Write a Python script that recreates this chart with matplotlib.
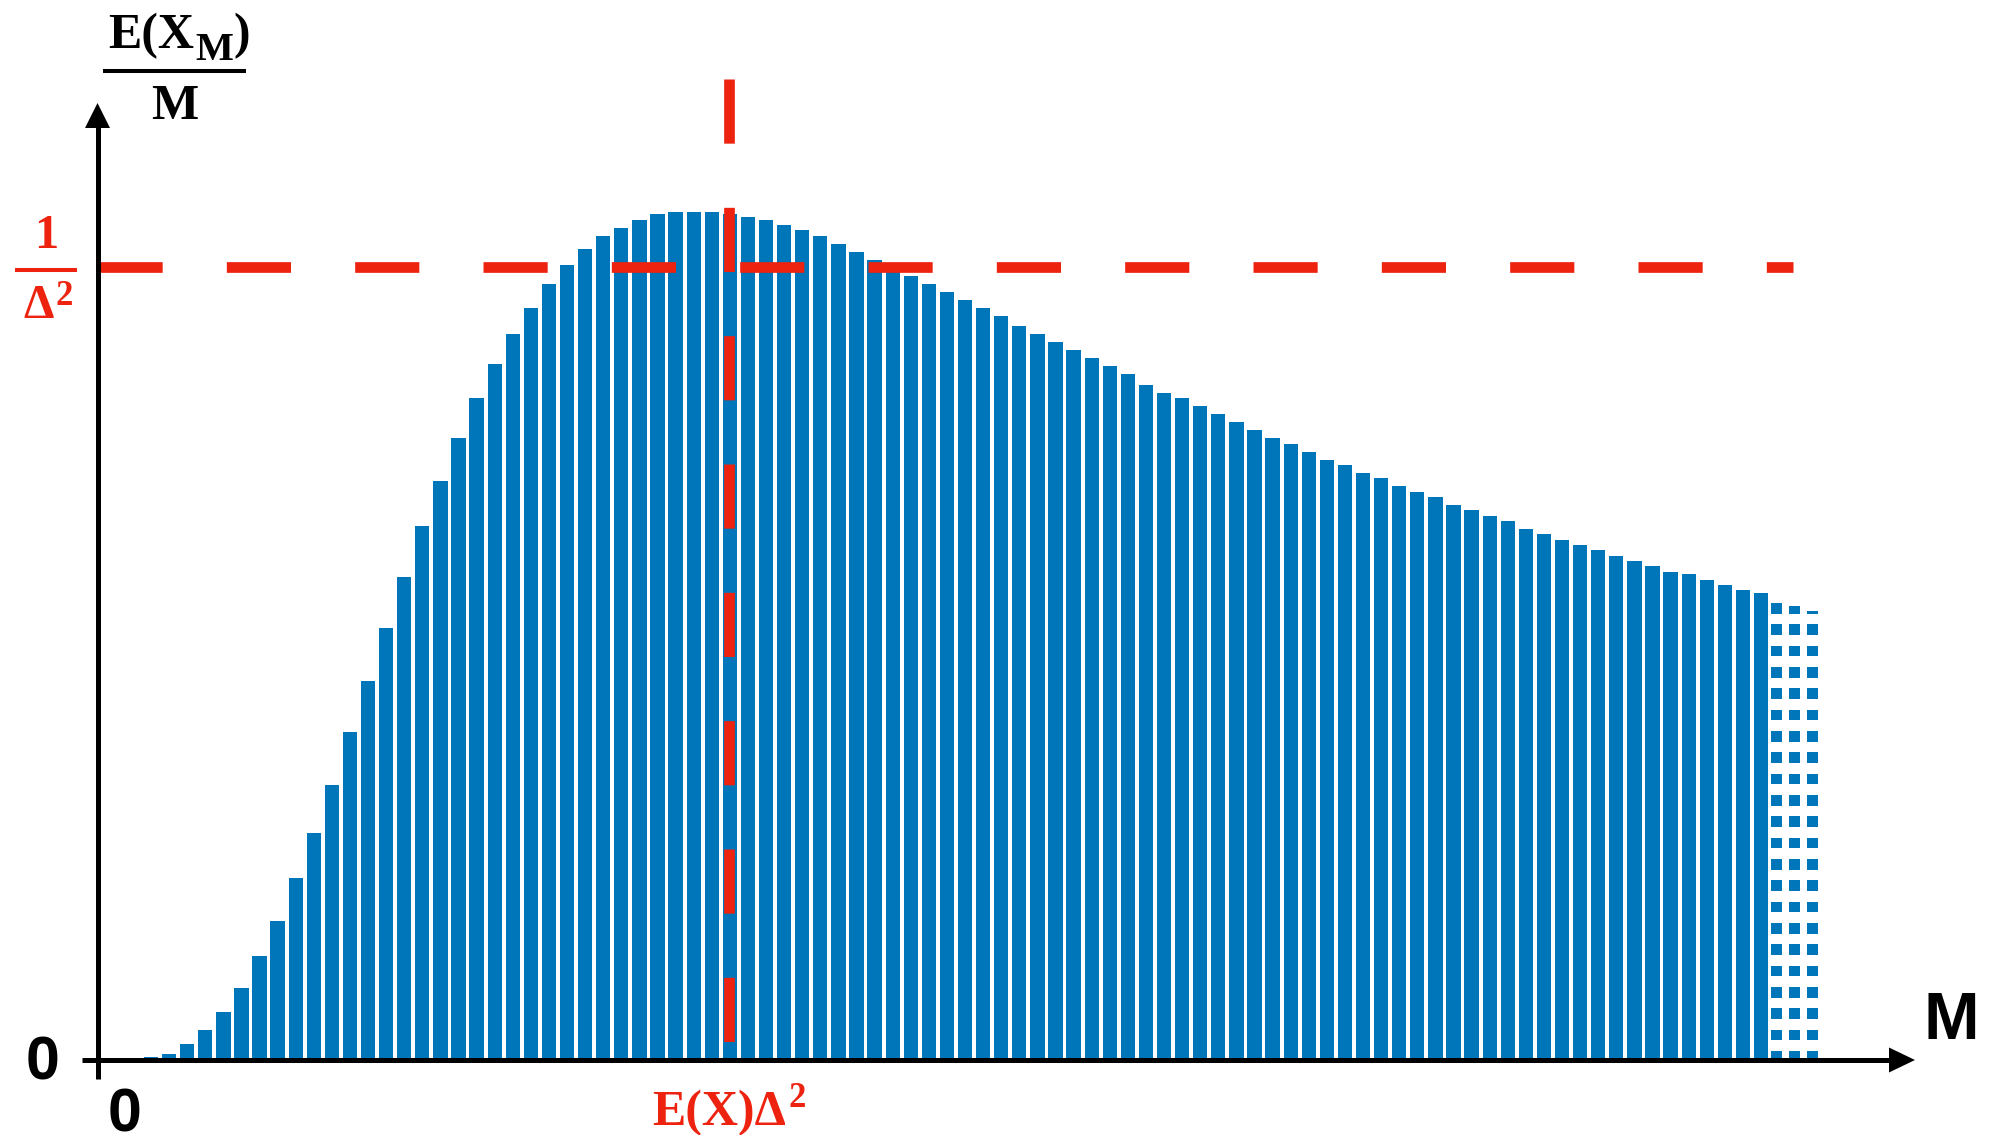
import matplotlib
matplotlib.use("Agg")
import matplotlib.pyplot as plt

# ---------------- data (ratio E(X_M)/M, in units of 1/Δ²) ----------------
M_solid = list(range(1, 91))
ratio_solid = [
    0.004, 0.008, 0.020, 0.038, 0.060, 0.091, 0.131, 0.175, 0.229, 0.286,
    0.347, 0.413, 0.478, 0.544, 0.609, 0.673, 0.730, 0.784, 0.834, 0.877,
    0.915, 0.948, 0.978, 1.002, 1.022, 1.038, 1.049, 1.059, 1.066, 1.069,
    1.069, 1.069, 1.066, 1.062, 1.059, 1.052, 1.046, 1.038, 1.028, 1.018,
    1.008, 0.998, 0.988, 0.978, 0.968, 0.958, 0.948, 0.938, 0.925, 0.915,
    0.905, 0.895, 0.885, 0.875, 0.865, 0.851, 0.841, 0.834, 0.824, 0.814,
    0.804, 0.794, 0.784, 0.776, 0.766, 0.756, 0.750, 0.740, 0.733, 0.723,
    0.716, 0.710, 0.699, 0.693, 0.686, 0.679, 0.669, 0.663, 0.655, 0.649,
    0.643, 0.635, 0.629, 0.623, 0.615, 0.612, 0.605, 0.599, 0.592, 0.589,
]
M_dotted = [91, 92, 93]
ratio_dotted = [0.576, 0.572, 0.566]
level = 1.0          # 1/Δ²
peak_M = 32.95       # E(X)Δ²

BLUE = "#0076BA"
RED = "#ED2310"
SERIF = "Liberation Serif"
SANS = "Liberation Sans"

# ---------------- figure / pixel mapping ----------------
W, H = 1990, 1135
fig = plt.figure(figsize=(W / 100, H / 100), dpi=100)
ax = fig.add_axes([0, 0, 1, 1])
PITCH, X0PX, BASE, UNIT = 18.09, 151.0, 1060.0, 793.5


def X(px):
    return (px - X0PX) / PITCH + 1


def Y(py):
    return (BASE - py) / UNIT


ax.set_xlim(X(0), X(W))
ax.set_ylim(Y(H), Y(0))
ax.axis("off")

# ---------------- bars ----------------
ax.bar(M_solid, ratio_solid, width=0.79, color=BLUE, linewidth=0, zorder=2)

per, sq, off = 21.33 / UNIT, 10.67 / UNIT, -1.6 / UNIT
for m, v in zip(M_dotted, ratio_dotted):
    j = 0
    while True:
        lo = off + j * per
        if lo >= v:
            break
        hi = min(lo + sq, v)
        lo2 = max(lo, 0)
        if hi > lo2:
            ax.bar(m - 0.17, hi - lo2, bottom=lo2, width=0.61, color=BLUE,
                   linewidth=0, zorder=2)
        j += 1

# ---------------- red dashed reference lines ----------------
ax.plot([X(97.5), X(1793)], [level, level], color=RED, lw=7.7,
        dashes=(6, 6), zorder=3)
ax.plot([peak_M, peak_M], [Y(79), 0], color=RED, lw=7.7,
        dashes=(6, 6), zorder=3)

# ---------------- axes with arrows ----------------
ax.plot([X(82), X(1892)], [0, 0], color="black", lw=3.6,
        solid_capstyle="butt", zorder=4)
ax.fill([X(1915), X(1889), X(1889)], [0, Y(1047.5), Y(1072.5)],
        color="black", lw=0, zorder=4)
ax.plot([X(97.5), X(97.5)], [Y(1079), Y(125)], color="black", lw=3.6,
        solid_capstyle="butt", zorder=4)
ax.fill([X(97.5), X(85), X(110)], [Y(103), Y(128), Y(128)],
        color="black", lw=0, zorder=4)

# ---------------- texts ----------------
renderer = fig.canvas.get_renderer()


def wpx(t):
    return t.get_window_extent(renderer).width


ax.text(X(1951), Y(1039), "M", fontsize=48, family=SANS, weight="bold",
        ha="center", va="baseline")
ax.text(X(125), Y(1131), "0", fontsize=44, family=SANS, weight="bold",
        ha="center", va="baseline")
ax.text(X(43), Y(1080), "0", fontsize=44, family=SANS, weight="bold",
        ha="center", va="baseline")

# y label: E(X_M) / M
t1 = ax.text(X(108), Y(48), "E(X", fontsize=36, family=SERIF, weight="bold",
             ha="left", va="baseline")
x_after = 108 + wpx(t1)
t2 = ax.text(X(x_after + 1), Y(60), "M", fontsize=29, family=SERIF,
             weight="bold", ha="left", va="baseline")
x_after2 = x_after + 1 + wpx(t2)
ax.text(X(x_after2 + 1), Y(48), ")", fontsize=36, family=SERIF,
        weight="bold", ha="left", va="baseline")
ax.plot([X(103), X(246)], [Y(71), Y(71)], color="black", lw=2.9,
        solid_capstyle="butt")
ax.text(X(174.5), Y(119), "M", fontsize=36, family=SERIF, weight="bold",
        ha="center", va="baseline")

# red 1/Δ²
ax.text(X(46), Y(248), "1", fontsize=35, family=SERIF, weight="bold",
        color=RED, ha="center", va="baseline")
ax.plot([X(15), X(77)], [Y(270), Y(270)], color=RED, lw=2.9,
        solid_capstyle="butt")
td = ax.text(X(23), Y(318), "Δ", fontsize=35, family=SERIF, weight="bold",
             color=RED, ha="left", va="baseline")
ax.text(X(23 + wpx(td) + 2), Y(305), "2", fontsize=25, family=SERIF,
        weight="bold", color=RED, ha="left", va="baseline")

# red E(X)Δ² tick label
tm = ax.text(0, Y(1125), "E(X)Δ", fontsize=36, family=SERIF, weight="bold",
             color=RED, ha="left", va="baseline")
ts = ax.text(0, Y(1107), "2", fontsize=25, family=SERIF, weight="bold",
             color=RED, ha="left", va="baseline")
wm, ws = wpx(tm), wpx(ts)
center_px = X0PX + (peak_M - 1) * PITCH
left = center_px - (wm + 2 + ws) / 2
tm.set_x(X(left))
ts.set_x(X(left + wm + 2))

fig.savefig("out.png", dpi=100)
